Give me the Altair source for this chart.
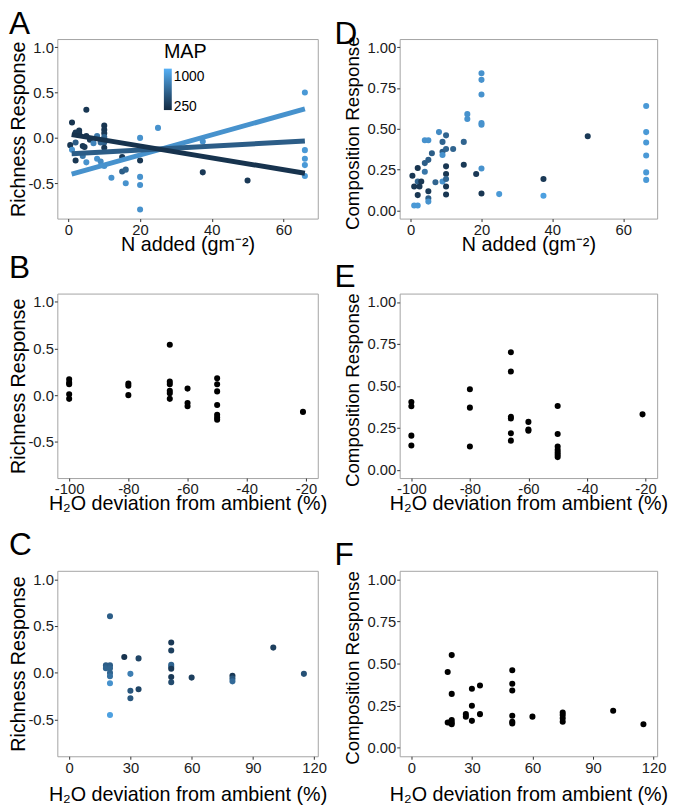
import altair as alt
import pandas as pd

FONT = "Liberation Sans"

# ---------------- data ----------------
# Panel A: richness response vs N added, coloured by MAP
a_n = [5, 1, 3, 2, 10, 10, 10, 10, 10, 10,
       5, 8, 2, 0.5, 4, 4.5, 1, 9, 2, 4,
       5, 8, 9, 10, 15, 15, 16, 12, 16, 20,
       20, 20, 20, 20, 25, 37.5, 37.5, 50,
       66, 66, 66, 66, 66, 3, 6, 7]
a_rich = [0.31, 0.17, 0.08, 0.06, 0.135, 0.09, 0.05, 0.01, -0.05, -0.11,
          0.02, 0.02, -0.05, -0.08, -0.09, -0.1, -0.13, -0.05, -0.25, -0.2,
          -0.27, -0.23, -0.26, -0.31, -0.21, -0.37, -0.35, -0.44, -0.5, 0.0,
          -0.25, -0.43, -0.52, -0.79, 0.11, -0.04, -0.38, -0.47,
          0.5, -0.135, -0.23, -0.30, -0.42, 0.05, -0.02, -0.06]
a_map = [280, 260, 280, 300, 260, 280, 300, 650, 600, 300,
         280, 800, 600, 280, 280, 300, 1000, 650, 280, 800,
         1000, 1000, 950, 1000, 300, 600, 650, 1000, 1000, 1000,
         280, 1000, 1000, 1000, 1000, 1000, 300, 300,
         1050, 1050, 1050, 1050, 1050, 280, 300, 900]

# Panel A: fitted lines at three MAP levels
line_grp = ["high", "high", "mid", "mid", "low", "low"]
line_n = [0.9, 66, 0.9, 66, 0.9, 66]
line_rich = [-0.40, 0.32, -0.175, -0.035, 0.036, -0.39]
line_map = [1000, 1000, 600, 600, 250, 250]

# Panel B: richness response vs H2O deviation (reductions)
b_h2o = [-100, -100, -100, -100, -100, -80, -80, -80,
         -66, -66, -66, -66, -66, -66, -60, -60, -60,
         -50, -50, -50, -50, -50, -50, -50, -21]
b_rich = [0.17, 0.134, 0.117, 0.01, -0.04, 0.124, 0.1, 0.0,
          0.54, 0.145, 0.117, 0.046, 0.02, -0.04, 0.07, -0.085, -0.12,
          0.18, 0.117, 0.04, -0.105, -0.21, -0.24, -0.265, -0.18]

# Panel C: richness response vs H2O deviation (additions), coloured by MAP
c_h2o = [20, 18, 18, 20, 20, 20, 20, 20, 20, 27, 34, 30, 30, 30,
         34, 50, 50, 50, 50, 50, 50, 50, 60, 80, 80, 80, 100, 115]
c_rich = [0.605, 0.08, 0.05, 0.08, 0.05, 0.0, -0.035, -0.11, -0.45, 0.17, 0.155, -0.01, -0.19, -0.27,
          -0.175, 0.325, 0.24, 0.087, 0.065, 0.045, -0.045, -0.1, -0.05, -0.03, -0.06, -0.09, 0.27, -0.01]
c_map = [600, 600, 650, 600, 650, 650, 750, 1000, 1100, 250, 400, 850, 550, 550,
         400, 300, 350, 650, 650, 300, 300, 450, 350, 300, 550, 700, 350, 500]

# Panel D: composition response vs N added, coloured by MAP
d_n = [0.5, 1, 1, 2, 2, 2, 2, 2.5, 3, 4,
       4, 4, 5, 5, 5, 5, 5, 6, 7, 8,
       9, 9, 9, 9, 10, 10, 10, 10, 10, 10,
       10, 12, 15, 15, 16, 16, 18.5, 20, 20, 20,
       20, 20, 20, 20, 25, 37.5, 37.5, 50,
       66.5, 66.5, 66.5, 66.5, 66.5, 66.5]
d_comp = [0.213, 0.147, 0.03, 0.03, 0.26, 0.177, 0.094, 0.147, 0.177, 0.29,
          0.237, 0.43, 0.43, 0.31, 0.118, 0.074, 0.054, 0.35, 0.173, 0.48,
          0.42, 0.36, 0.34, 0.177, 0.46, 0.376, 0.27, 0.223, 0.193, 0.147,
          0.098, 0.376, 0.42, 0.28, 0.59, 0.56, 0.223, 0.84, 0.80, 0.71,
          0.535, 0.525, 0.257, 0.104, 0.1, 0.193, 0.09, 0.455,
          0.64, 0.48, 0.416, 0.337, 0.233, 0.187]
d_map = [280, 280, 1050, 1050, 260, 650, 280, 300, 280, 600,
         800, 1000, 1000, 600, 300, 600, 1000, 600, 650, 950,
         650, 600, 1000, 1000, 650, 650, 280, 280, 650, 280,
         280, 650, 650, 300, 1000, 1000, 300, 1000, 1000, 1000,
         1000, 1000, 1000, 280, 1050, 300, 1100, 300,
         1050, 1050, 1050, 1050, 1050, 1050]

# Panel E: composition response vs H2O deviation (reductions)
e_h2o = [-100, -100, -100, -100, -80, -80, -80,
         -66, -66, -66, -66, -66, -66, -60, -60, -60,
         -50, -50, -50, -50, -50, -50, -50, -21]
e_comp = [0.404, 0.378, 0.203, 0.144, 0.48, 0.37, 0.138,
          0.70, 0.585, 0.315, 0.305, 0.217, 0.173, 0.285, 0.24, 0.232,
          0.38, 0.213, 0.138, 0.118, 0.102, 0.089, 0.075, 0.33]

# Panel F: composition response vs H2O deviation (additions)
f_h2o = [18, 18, 19, 20, 20, 20, 20, 20, 27, 27, 30, 30, 30, 34,
         34, 50, 50, 50, 50, 50, 50, 60, 75, 75, 75, 75, 100, 115]
f_comp = [0.45, 0.15, 0.15, 0.55, 0.32, 0.165, 0.15, 0.14, 0.2, 0.185, 0.35, 0.25, 0.16, 0.37,
          0.2, 0.46, 0.38, 0.34, 0.19, 0.155, 0.145, 0.185, 0.21, 0.195, 0.175, 0.155, 0.22, 0.14]

# tick values / labels
n_ticks = [0, 20, 40, 60]
red_ticks = [-100, -80, -60, -40, -20]
add_ticks = [0, 30, 60, 90, 120]
rich_ticks = [-0.5, 0.0, 0.5, 1.0]
comp_ticks = [0.0, 0.25, 0.5, 0.75, 1.0]
map_ticks = [250, 1000]

T_RICH = "Richness Response"
T_COMP = "Composition Response"
T_N = "N added (gm\u207b\u00b2)"
T_H2O = "H\u2082O deviation from ambient (%)"

# ---------------- styling helpers ----------------
MAP_SCALE = alt.Scale(domain=[175, 1225], range=["#132B43", "#56B1F7"], interpolate="lab")
HYPHEN = "replace(datum.label, '\u2212', '-')"

LW, RW = 264, 261          # plot widths left / right column
H1, H2, H3 = 182, 187, 188  # plot heights per row


def xaxis(title, values, fmt, ext, pad):
    return alt.Axis(title=title, values=values, format=fmt, labelExpr=HYPHEN,
                    minExtent=ext, maxExtent=ext, titlePadding=pad,
                    labelFlush=False, labelOverlap=False)


def yaxis(title, values, fmt, ext, pad, tsize, ty=None):
    kw = dict(title=title, values=values, format=fmt, labelExpr=HYPHEN,
              minExtent=ext, maxExtent=ext, titlePadding=pad, titleFontSize=tsize,
              labelFlush=False, labelOverlap=False)
    if ty is not None:
        kw["titleY"] = ty
    return alt.Axis(**kw)


def letter(text, off, dx):
    return alt.TitleParams(text=text, anchor="start", frame="group", orient="top",
                           fontSize=32, fontWeight="normal", font=FONT, color="black",
                           baseline="top", offset=off, dx=dx)


xs_n = alt.Scale(domain=[-3.1, 69.6], nice=False, zero=False)
xs_red = alt.Scale(domain=[-104, -16], nice=False, zero=False)
xs_add = alt.Scale(domain=[-5.8, 121.8], nice=False, zero=False)
ys_rich = alt.Scale(domain=[-0.89, 1.09], nice=False, zero=False)
ys_comp = alt.Scale(domain=[-0.05, 1.05], nice=False, zero=False)

yl_rich = yaxis(T_RICH, rich_ticks, ".1f", 28, 1, 20)
yr_comp1 = yaxis(T_COMP, comp_ticks, ".2f", 33, 5, 19, H1 / 2 + 4)
yr_comp2 = yaxis(T_COMP, comp_ticks, ".2f", 33, 5, 19, H2 / 2 + 4)
yr_comp3 = yaxis(T_COMP, comp_ticks, ".2f", 33, 5, 19, H3 / 2 + 4)

ax_n = xaxis(T_N, n_ticks, "d", 16, 0)
ax_red = xaxis(T_H2O, red_ticks, "d", 15, 1)
ax_add = xaxis(T_H2O, add_ticks, "d", 15, 14)

map_legend = alt.Legend(type="gradient", orient="none", legendX=108, legendY=3, title="MAP",
                        titleFontSize=20, titleFont=FONT, titleFontWeight="normal",
                        titleColor="black", titlePadding=7, gradientLength=42,
                        gradientThickness=8, labelFontSize=14, labelFont=FONT,
                        labelColor="black", labelOffset=2, values=map_ticks,
                        direction="vertical", padding=0, gradientStrokeWidth=0, format="d")

PT = dict(size=38, opacity=1, filled=True)

# ---------------- panels ----------------
df_a = pd.DataFrame({"n": a_n, "rich": a_rich, "MAP": a_map})
df_l = pd.DataFrame({"n": line_n, "rich": line_rich, "MAP": line_map, "grp": line_grp})
a_pts = alt.Chart(df_a).mark_circle(**PT).encode(
    x=alt.X("n:Q", scale=xs_n, axis=ax_n),
    y=alt.Y("rich:Q", scale=ys_rich, axis=yl_rich),
    color=alt.Color("MAP:Q", scale=MAP_SCALE, legend=map_legend),
)
a_lines = alt.Chart(df_l).mark_line(strokeWidth=5, strokeCap="butt").encode(
    x=alt.X("n:Q", scale=xs_n, axis=ax_n),
    y=alt.Y("rich:Q", scale=ys_rich, axis=yl_rich),
    color=alt.Color("MAP:Q", scale=MAP_SCALE, legend=None),
    detail="grp:N",
)
A = alt.layer(a_pts, a_lines).resolve_scale(color="independent").resolve_legend(
    color="independent"
).properties(width=LW, height=H1, title=letter("A", -2, -49))

df_d = pd.DataFrame({"n": d_n, "comp": d_comp, "MAP": d_map})
D = alt.Chart(df_d).mark_circle(**PT).encode(
    x=alt.X("n:Q", scale=xs_n, axis=ax_n),
    y=alt.Y("comp:Q", scale=ys_comp, axis=yr_comp1),
    color=alt.Color("MAP:Q", scale=MAP_SCALE, legend=None),
).properties(width=RW, height=H1, title=letter("D", -15, -66))

df_b = pd.DataFrame({"h2o": b_h2o, "rich": b_rich})
B = alt.Chart(df_b).mark_circle(color="black", **PT).encode(
    x=alt.X("h2o:Q", scale=xs_red, axis=ax_red),
    y=alt.Y("rich:Q", scale=ys_rich, axis=yl_rich),
).properties(width=LW, height=H2, title=letter("B", 9, -49))

df_e = pd.DataFrame({"h2o": e_h2o, "comp": e_comp})
E = alt.Chart(df_e).mark_circle(color="black", **PT).encode(
    x=alt.X("h2o:Q", scale=xs_red, axis=ax_red),
    y=alt.Y("comp:Q", scale=ys_comp, axis=yr_comp2),
).properties(width=RW, height=H2, title=letter("E", -1.5, -66))

df_c = pd.DataFrame({"h2o": c_h2o, "rich": c_rich, "MAP": c_map})
C = alt.Chart(df_c).mark_circle(**PT).encode(
    x=alt.X("h2o:Q", scale=xs_add, axis=ax_add),
    y=alt.Y("rich:Q", scale=ys_rich, axis=yl_rich),
    color=alt.Color("MAP:Q", scale=MAP_SCALE, legend=None),
).properties(width=LW, height=H3, title=letter("C", 9, -49))

df_f = pd.DataFrame({"h2o": f_h2o, "comp": f_comp})
F = alt.Chart(df_f).mark_circle(color="black", **PT).encode(
    x=alt.X("h2o:Q", scale=xs_add, axis=ax_add),
    y=alt.Y("comp:Q", scale=ys_comp, axis=yr_comp3),
).properties(width=RW, height=H3, title=letter("F", -1, -66))


def indep(c):
    return c.resolve_scale(x="independent", y="independent", color="independent") \
            .resolve_axis(x="independent", y="independent") \
            .resolve_legend(color="independent")


row1 = indep(alt.hconcat(A, D, spacing=83, bounds="flush"))
row2 = indep(alt.hconcat(B, E, spacing=83, bounds="flush"))
row3 = indep(alt.hconcat(C, F, spacing=83, bounds="flush"))
top = indep(alt.vconcat(row1, row2, spacing=-4))
chart = indep(alt.vconcat(top, row3, spacing=14))

chart = chart.properties(
    padding={"top": -6, "left": 0, "right": 0, "bottom": 0}, background="white"
).configure_view(
    stroke="#a3a3a3", strokeWidth=1
).configure_axis(
    domain=False, grid=False, ticks=True, tickSize=3, tickColor="#333333",
    labelFont=FONT, labelFontSize=15, labelColor="#1a1a1a", labelPadding=1,
    titleFont=FONT, titleFontSize=20, titleFontWeight="normal", titleColor="black",
)

chart.save("out.html", embed_options={"renderer": "svg", "actions": False})
